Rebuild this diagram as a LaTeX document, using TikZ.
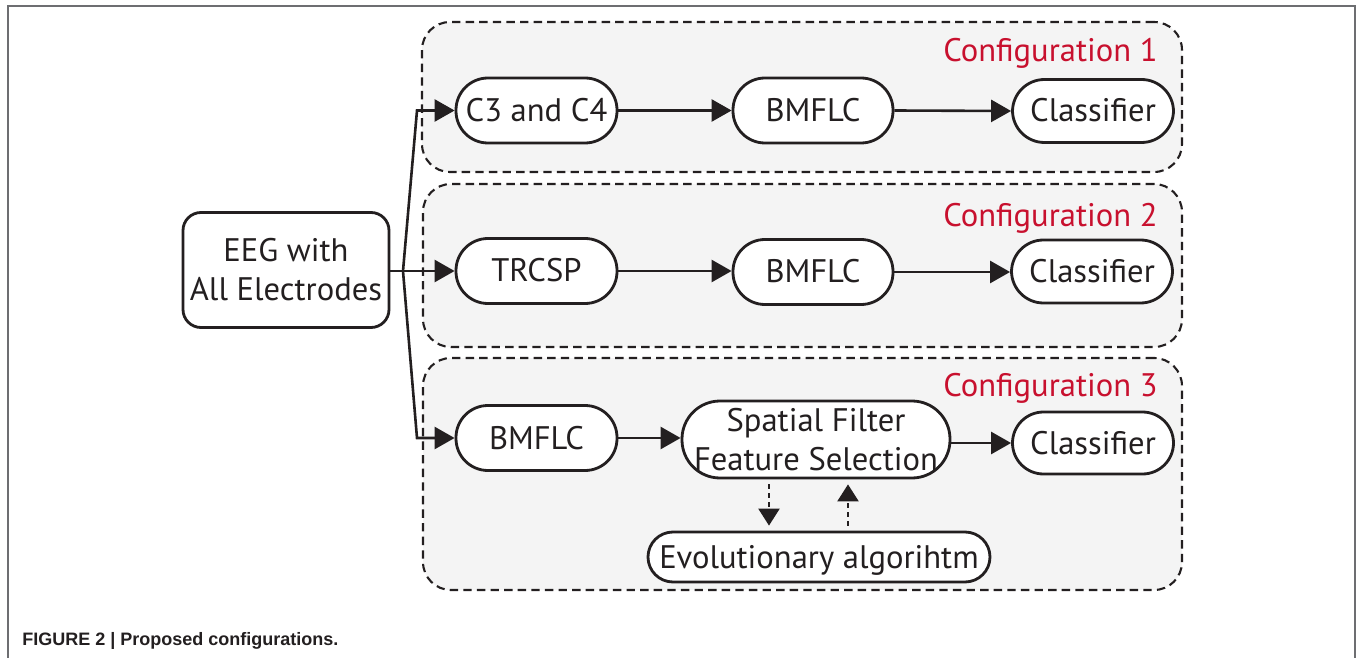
\documentclass[tikz,border=0pt]{standalone}
\usepackage{fontspec}
\setmainfont{PT Sans}
\newfontfamily\capfont{Liberation Sans}
\usetikzlibrary{arrows.meta,calc}
\definecolor{ink}{HTML}{231F20}
\definecolor{cfgred}{RGB}{200,16,46}
\definecolor{panel}{HTML}{F4F4F4}
\definecolor{framegray}{HTML}{6D6E71}
\begin{document}
\begin{tikzpicture}[x=0.5pt,y=-0.5pt,
  txt/.style={font=\fontsize{16.3pt}{19.5pt}\selectfont, text=ink},
  pillbase/.style={txt, draw=ink, fill=white, line width=1.4pt, rectangle,
    rounded corners=16pt, minimum width=80.5pt, minimum height=32.5pt,
    inner sep=0pt, align=center},
  pill/.style={pillbase, text height=11.5pt, text depth=0.5pt},
  cfgbox/.style={draw=ink, fill=panel, line width=1.05pt,
    dash pattern=on 4.2pt off 2.6pt, rounded corners=14pt, inner sep=0pt},
  cfglabel/.style={txt, text=cfgred, anchor=base east, inner sep=0pt},
  arr/.style={draw=ink, line width=1.3pt, -{Triangle[length=10pt,width=11pt]}},
  dotarr/.style={draw=ink, line width=1.2pt, dash pattern=on 2.5pt off 2pt,
    -{Triangle[length=8.5pt,width=10.5pt]}, shorten <=2.5pt, shorten >=2.5pt},
]
\useasboundingbox (0,0) rectangle (1362,658);
\fill[white] (0,0) rectangle (1362,658);

% page frame
\draw[framegray, line width=0.8pt] (8,658) -- (8,6) -- (1355,6) -- (1355,658);

% configuration panels
\node[cfgbox, minimum width=380pt, minimum height=75pt] (cfg1) at (802,97) {};
\node[cfgbox, minimum width=379.5pt, minimum height=81.5pt] (cfg2) at (802.5,265.5) {};
\node[cfgbox, minimum width=379.5pt, minimum height=116pt] (cfg3) at (802.5,474) {};

\node[cfglabel] (lab1) at (1158,62) {Configuration 1};
\node[cfglabel] (lab2) at (1158,227) {Configuration 2};
\node[cfglabel] (lab3) at (1158,396) {Configuration 3};

% input node
\node[txt, draw=ink, fill=white, line width=1.4pt, rectangle, rounded corners=9pt,
  minimum width=103pt, minimum height=57.5pt, align=center, inner sep=0pt]
  (eeg) at (286,270) {EEG with\\All Electrodes};

% configuration 1
\node[pill] (c3) at (536.5,110.5) {C3 and C4};
\node[pill, minimum width=80pt] (bm1) at (813,110.5) {BMFLC};
\node[pill, minimum height=31.5pt] (cl1) at (1093,111) {Classifier};

% configuration 2
\node[pill] (trcsp) at (536.5,271) {TRCSP};
\node[pill, minimum width=80pt] (bm2) at (813,272) {BMFLC};
\node[pill, minimum height=31.5pt] (cl2) at (1092,271.5) {Classifier};

% configuration 3
\node[pill] (bm3) at (536.5,438) {BMFLC};
\node[pillbase, minimum width=134pt, minimum height=38.5pt, rounded corners=19pt]
  (sf) at (816,439.5) {Spatial Filter\\Feature Selection};
\node[pill, minimum height=31pt, rounded corners=15.5pt] (cl3) at (1093,443) {Classifier};
\node[pill, minimum width=171pt, minimum height=25pt, rounded corners=12.5pt] (evo)
  at (819,557) {Evolutionary algorihtm};

% fan-out from the input
\coordinate (j) at (403,271);
\coordinate (bend) at (417,271);
\draw[draw=ink, line width=1.3pt] (eeg.east |- j) -- (j);
\draw[arr] (j) -- (c3.west -| bend) -- (c3.west);
\draw[arr] (j) -- (trcsp.west);
\draw[arr] (j) -- (bm3.west -| bend) -- (bm3.west);

% processing chains
\draw[arr] (c3.east) -- (bm1.west);
\draw[arr] (bm1.east) -- (cl1.west);
\draw[arr] (trcsp.east) -- (trcsp.east -| bm2.west);
\draw[arr] (bm2.east) -- (bm2.east -| cl2.west);
\draw[arr] (bm3.east) -- (bm3.east -| sf.west);
\draw[arr] (sf.east |- cl3.west) -- (cl3.west);

% feedback with the evolutionary search
\draw[dotarr] ([xshift=-23.5pt]sf.south) -- ([xshift=-23.5pt]sf.south |- evo.north);
\draw[dotarr] ([xshift=16pt]sf.south |- evo.north) -- ([xshift=16pt]sf.south);

% caption
\node[anchor=base west, inner sep=0pt, text=ink, font=\capfont\bfseries\fontsize{9pt}{11pt}\selectfont]
  (cap) at (22,645) {FIGURE 2 | Proposed configurations.};
\end{tikzpicture}
\end{document}
